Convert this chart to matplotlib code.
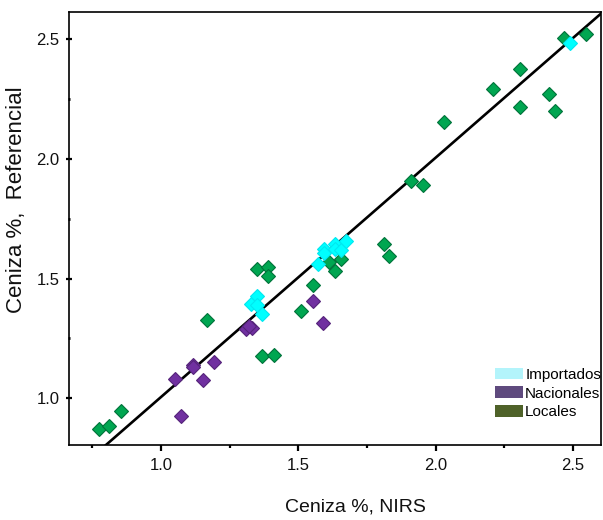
import matplotlib
matplotlib.use("Agg")
import matplotlib.pyplot as plt
from matplotlib.patches import Patch
from matplotlib.ticker import MultipleLocator

plt.rcParams['font.family'] = ['Liberation Sans', 'DejaVu Sans']

# ash content: NIRS prediction (x) vs reference method (y)
locales_nirs = [0.773, 0.812, 0.854, 1.169, 1.350, 1.391, 1.391, 1.369, 1.411,
                1.511, 1.554, 1.611, 1.654, 1.633, 2.467, 2.548, 2.309, 2.208,
                2.414, 2.309, 2.433, 2.030, 1.912, 1.955, 1.811, 1.831]
locales_ref = [0.873, 0.884, 0.947, 1.328, 1.541, 1.547, 1.511, 1.175, 1.182,
               1.363, 1.471, 1.571, 1.581, 1.531, 2.507, 2.522, 2.376, 2.293,
               2.271, 2.218, 2.200, 2.152, 1.906, 1.890, 1.645, 1.596]

nacionales_nirs = [1.072, 1.052, 1.116, 1.116, 1.152, 1.194, 1.311, 1.332,
                   1.319, 1.554, 1.591]
nacionales_ref = [0.925, 1.082, 1.140, 1.129, 1.077, 1.152, 1.289, 1.292,
                  1.300, 1.404, 1.316]

importados_nirs = [1.328, 1.350, 1.350, 1.369, 1.572, 1.593, 1.593, 1.632,
                   1.632, 1.654, 1.673, 2.491]
importados_ref = [1.394, 1.429, 1.391, 1.352, 1.562, 1.624, 1.607, 1.645,
                  1.624, 1.620, 1.656, 2.486]

# calibration line y = a*x + b
slope = 1.0
intercept = 0.005

legend_labels = ['Importados', 'Nacionales', 'Locales']
legend_colors = ['#b3f4fb', '#5f4a7e', '#4f6229']

fig = plt.figure(figsize=(6.03, 5.2), dpi=100)
ax = fig.add_axes([0.115, 0.145, 0.8825, 0.8325])

xmin, xmax = 0.666, 2.604
ax.plot([xmin, xmax], [slope * xmin + intercept, slope * xmax + intercept],
        color='black', lw=1.9, zorder=2, solid_capstyle='butt')

marker_kw = dict(linestyle='none', marker='D', ms=7, mew=0.8, zorder=3)
ax.plot(locales_nirs, locales_ref, mfc='#00a651', mec='#00723a', **marker_kw)
ax.plot(nacionales_nirs, nacionales_ref, mfc='#7030a0', mec='#55247a', **marker_kw)
ax.plot(importados_nirs, importados_ref, mfc='#00ffff', mec='#00e8f0', **marker_kw)

ax.set_xlim(xmin, xmax)
ax.set_ylim(0.806, 2.615)

ax.xaxis.set_major_locator(MultipleLocator(0.5))
ax.xaxis.set_minor_locator(MultipleLocator(0.25))
ax.yaxis.set_major_locator(MultipleLocator(0.5))
ax.yaxis.set_minor_locator(MultipleLocator(0.25))
ax.xaxis.set_major_formatter(lambda v, p: f'{v:.1f}')
ax.yaxis.set_major_formatter(lambda v, p: f'{v:.1f}')

ax.tick_params(axis='x', which='major', direction='out', length=4, width=1.6,
               pad=6, labelsize=12, labelcolor='#111111')
ax.tick_params(axis='x', which='minor', direction='out', length=2.5, width=1.6)
ax.tick_params(axis='y', which='major', direction='inout', length=4.5, width=1.6,
               pad=5, labelsize=12, labelcolor='#111111')
ax.tick_params(axis='y', which='minor', direction='inout', length=2, width=2)

for s in ax.spines.values():
    s.set_linewidth(1.2)

ax.set_xlabel('Ceniza %, NIRS', fontsize=14, color='#111111')
ax.set_ylabel('Ceniza %,  Referencial', fontsize=16, color='#111111')
ax.xaxis.set_label_coords(0.537, -0.125)
ax.yaxis.set_label_coords(-0.08, 0.565)

handles = [Patch(facecolor=c, edgecolor='none') for c in legend_colors]
ax.legend(handles, legend_labels, loc='upper left',
          bbox_to_anchor=(487 / 603, 1 - 360 / 520), bbox_transform=fig.transFigure,
          frameon=False, fontsize=11, borderpad=0, labelspacing=0.3,
          handlelength=1.85, handleheight=0.8, handletextpad=0.15)

fig.savefig('out.png', dpi=100)
